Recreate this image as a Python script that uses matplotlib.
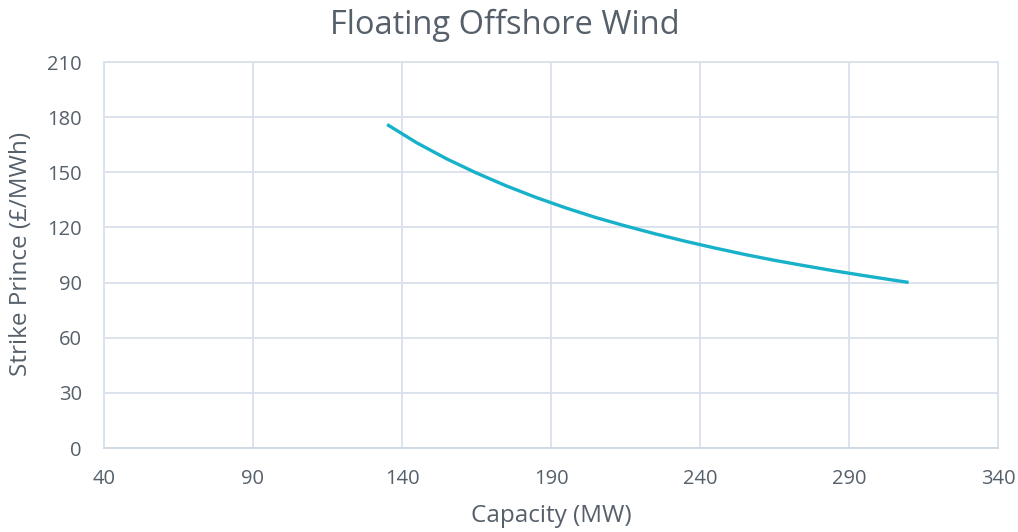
import matplotlib
matplotlib.use("Agg")
import matplotlib.pyplot as plt

# ─── Données ─────────────────────────────────────────────────────────────────
capacite_mw = [135, 145, 155, 165, 175, 185, 195, 205, 215, 225,
               235, 245, 255, 265, 275, 285, 295, 305, 310]
prix_mwh = [176, 166, 157.3, 149.6, 142.6, 136.3, 130.6, 125.4, 120.8, 116.5,
            112.5, 108.8, 105.3, 102.1, 99.2, 96.4, 93.8, 91.3, 90.1]

x_ticks = [40, 90, 140, 190, 240, 290, 340]
y_ticks = [0, 30, 60, 90, 120, 150, 180, 210]

# ─── Style ───────────────────────────────────────────────────────────────────
plt.rcParams["font.family"] = ["Open Sans", "DejaVu Sans"]
TEXTE = "#56606b"
GRILLE = "#d9e1ea"
COURBE = "#17b1c9"

W, H = 1018, 532
fig = plt.figure(figsize=(W / 100, H / 100), dpi=100)
ax = fig.add_axes([104 / W, 1 - 448 / H, 894 / W, 386 / H])

ax.plot(capacite_mw, prix_mwh, color=COURBE, linewidth=2.4,
        solid_capstyle="butt", zorder=3)

ax.set_xlim(40, 340)
ax.set_ylim(0, 210)
ax.set_xticks(x_ticks)
ax.set_yticks(y_ticks)
ax.grid(True, color=GRILLE, linewidth=1.3)
ax.set_axisbelow(True)

for side in ["top", "right", "left"]:
    ax.spines[side].set_color(GRILLE)
    ax.spines[side].set_linewidth(1.3)
ax.spines["bottom"].set_color("#cfd8e2")
ax.spines["bottom"].set_linewidth(1.3)

ax.tick_params(length=0, labelsize=14.5, colors=TEXTE)
ax.tick_params(axis="x", pad=15)
ax.tick_params(axis="y", pad=16)

# Titre et libellés placés en coordonnées figure
fig.text(505 / W, 1 - 25 / H, "Floating Offshore Wind", fontsize=23.5,
         color=TEXTE, ha="center", va="center")
fig.text(551 / W, 1 - 516 / H, "Capacity (MW)", fontsize=17.5,
         color=TEXTE, ha="center", va="center")
fig.text(21 / W, 1 - 254 / H, "Strike Prince (£/MWh)", fontsize=17.5,
         color=TEXTE, ha="center", va="center", rotation=90)

fig.savefig("out.png", dpi=100)
